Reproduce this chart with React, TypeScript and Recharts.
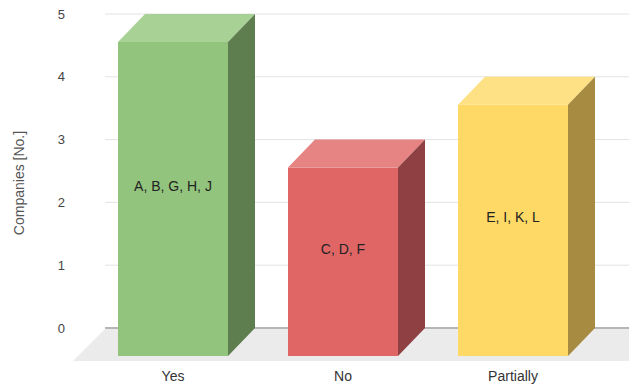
import React from "react";
import { BarChart, Bar, XAxis, YAxis, CartesianGrid, Label } from "recharts";

const categories = ["Yes", "No", "Partially"];
const companyCounts = [5, 3, 4];
const companyLists = ["A, B, G, H, J", "C, D, F", "E, I, K, L"];
const yTicks = [0, 1, 2, 3, 4, 5];

const FRONT_COLORS = ["#93C47D", "#E06666", "#FFD966"];
const TOP_COLORS = ["#A8D195", "#E68383", "#FFE185"];
const SIDE_COLORS = ["#5F7E4F", "#8F4043", "#A68B40"];

const WIDTH = 629;
const HEIGHT = 387;
const MARGIN = { top: 14, right: 4, bottom: 29, left: 0 };
const XAXIS_HEIGHT = 30;
const PLOT_BOTTOM = HEIGHT - MARGIN.bottom - XAXIS_HEIGHT;

// 3d offsets (front face is shifted down-left from the back wall)
const DEPTH_X = 27;
const DEPTH_Y = 28;
const FLOOR_DEPTH = 32;
const FONT = "Arial, 'Liberation Sans', sans-serif";

const data = categories.map((answer, i) => ({
  answer,
  companies: companyCounts[i],
  list: companyLists[i],
}));

function Box3D(props: any) {
  const { x, y, width, height, payload } = props;
  const i = categories.indexOf(payload.answer);
  const fx = x - DEPTH_X;
  const fy = y + DEPTH_Y;
  return (
    <g>
      <polygon
        points={`${fx},${fy} ${x},${y} ${x + width},${y} ${fx + width},${fy}`}
        fill={TOP_COLORS[i]}
      />
      <polygon
        points={`${fx + width},${fy} ${x + width},${y} ${x + width},${y + height} ${fx + width},${fy + height}`}
        fill={SIDE_COLORS[i]}
      />
      <rect x={fx} y={fy} width={width} height={height} fill={FRONT_COLORS[i]} />
      <text
        x={fx + width / 2}
        y={(y + fy + height) / 2 + 1}
        textAnchor="middle"
        dominantBaseline="central"
        fontSize={14}
        fontFamily={FONT}
        fill="#222"
      >
        {payload.list}
      </text>
    </g>
  );
}

function GridLine(props: any) {
  const { x1, x2, y1, index } = props;
  const left = x1 - 10;
  const right = x2 + 4;
  if (Math.abs(y1 - PLOT_BOTTOM) < 1) {
    // floor + baseline
    return (
      <g key={`grid-${index}`}>
        <polygon
          points={`${left},${y1 + 1} ${right + FLOOR_DEPTH},${y1 + 1} ${right},${y1 + 1 + FLOOR_DEPTH} ${left - FLOOR_DEPTH},${y1 + 1 + FLOOR_DEPTH}`}
          fill="#EBEBEB"
        />
        <line x1={left} x2={right} y1={y1} y2={y1} stroke="#9E9E9E" strokeWidth={1.5} />
      </g>
    );
  }
  return (
    <line key={`grid-${index}`} x1={left} x2={right} y1={y1} y2={y1} stroke="#E3E3E3" strokeWidth={1} />
  );
}

function CategoryTick(props: any) {
  const { x, y, payload } = props;
  return (
    <text x={x - DEPTH_X} y={y + 53} textAnchor="middle" fontSize={14} fontFamily={FONT} fill="#333">
      {payload.value}
    </text>
  );
}

function AxisTitle(props: any) {
  const { viewBox } = props;
  const cy = viewBox.y + viewBox.height / 2 + 12;
  return (
    <text
      x={19}
      y={cy}
      transform={`rotate(-90, 19, ${cy})`}
      textAnchor="middle"
      dominantBaseline="central"
      fontSize={14}
      fontFamily={FONT}
      fill="#555"
    >
      Companies [No.]
    </text>
  );
}

export default function App() {
  return (
    <div style={{ position: "absolute", left: 0, top: 0, background: "#fff" }}>
      <BarChart width={WIDTH} height={HEIGHT} data={data} margin={MARGIN} barSize={110}>
        <CartesianGrid vertical={false} horizontal={GridLine} />
        <XAxis
          dataKey="answer"
          height={XAXIS_HEIGHT}
          axisLine={false}
          tickLine={false}
          tickSize={0}
          tickMargin={0}
          tick={CategoryTick}
          interval={0}
        />
        <YAxis
          width={115}
          domain={[0, 5]}
          ticks={yTicks}
          axisLine={false}
          tickLine={false}
          tickSize={0}
          tickMargin={50}
          tick={{ fill: "#444", fontSize: 13, fontFamily: FONT }}
        >
          <Label content={AxisTitle} />
        </YAxis>
        <Bar dataKey="companies" shape={Box3D} isAnimationActive={false} />
      </BarChart>
    </div>
  );
}
